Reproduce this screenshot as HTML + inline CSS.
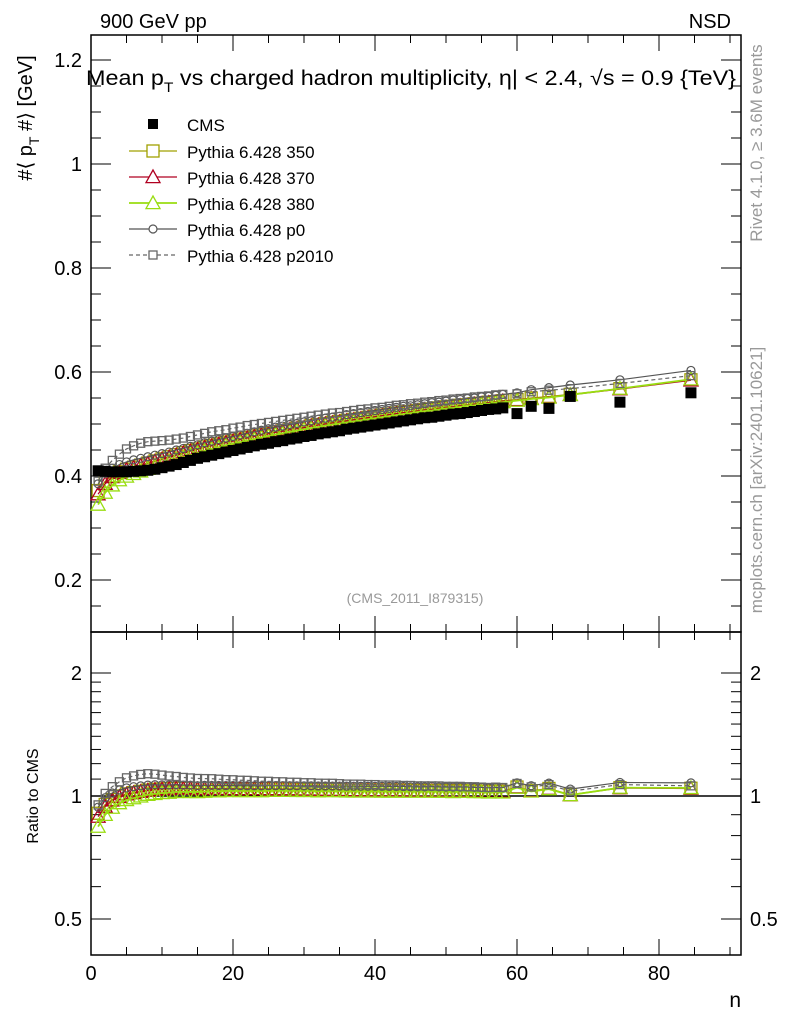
<!DOCTYPE html>
<html><head><meta charset="utf-8"><style>
body{margin:0;background:#fff}
svg{display:block;font-family:"Liberation Sans",sans-serif}
</style></head><body>
<svg id="c" width="786" height="1024" viewBox="0 0 786 1024">
<g id="axes"></g><g id="series"></g>
<text x="100" y="28" font-size="20">900 GeV pp</text>
<text x="731" y="28" font-size="20" text-anchor="end">NSD</text>
<text x="86" y="85" font-size="21" textLength="650" lengthAdjust="spacingAndGlyphs">Mean p<tspan font-size="14" dy="7">T</tspan><tspan dy="-7"> vs charged hadron multiplicity, η| &lt; 2.4, √s = 0.9 {TeV}</tspan></text>
<text transform="translate(32,118) rotate(-90)" font-size="20" text-anchor="middle">#⟨ p<tspan font-size="14" dy="7">T</tspan><tspan dy="-7"> #⟩ [GeV]</tspan></text>
<text transform="translate(38,796) rotate(-90)" font-size="16" text-anchor="middle">Ratio to CMS</text>
<text x="741" y="1007" font-size="21" text-anchor="end">n</text>
<text x="415" y="603" font-size="14" fill="#999" text-anchor="middle">(CMS_2011_I879315)</text>
<text transform="translate(762,143) rotate(-90)" font-size="17" fill="#999" text-anchor="middle">Rivet 4.1.0, ≥ 3.6M events</text>
<text transform="translate(762,480) rotate(-90)" font-size="17" fill="#999" text-anchor="middle">mcplots.cern.ch [arXiv:2401.10621]</text>
<g id="legend"></g>
</svg>
<script>
const nVals=[1,2,3,4,5,6,7,8,9,10,11,12,13,14,15,16,17,18,19,20,21,22,23,24,25,26,27,28,29,30,31,32,33,34,35,36,37,38,39,40,41,42,43,44,45,46,47,48,49,50,51,52,53,54,55,56,57,58,60,62,64.5,67.5,74.5,84.5];
const cms=[0.410,0.409,0.408,0.408,0.408,0.409,0.410,0.411,0.413,0.416,0.419,0.422,0.426,0.430,0.434,0.437,0.440,0.443,0.446,0.449,0.452,0.455,0.458,0.461,0.463,0.466,0.468,0.471,0.473,0.476,0.478,0.481,0.483,0.485,0.487,0.490,0.492,0.494,0.496,0.498,0.500,0.502,0.504,0.506,0.508,0.510,0.512,0.513,0.515,0.517,0.519,0.520,0.522,0.524,0.526,0.528,0.529,0.531,0.520,0.534,0.530,0.553,0.542,0.560];
const p350=[0.372,0.390,0.400,0.408,0.413,0.417,0.421,0.425,0.429,0.433,0.437,0.441,0.445,0.449,0.452,0.456,0.459,0.462,0.465,0.468,0.471,0.474,0.477,0.480,0.482,0.485,0.487,0.490,0.492,0.494,0.497,0.499,0.501,0.503,0.505,0.507,0.509,0.511,0.513,0.515,0.517,0.519,0.521,0.523,0.524,0.526,0.528,0.529,0.531,0.533,0.534,0.536,0.537,0.539,0.540,0.542,0.543,0.545,0.547,0.550,0.553,0.557,0.568,0.585];
const p370=[0.365,0.385,0.398,0.406,0.412,0.416,0.420,0.424,0.428,0.432,0.436,0.440,0.444,0.448,0.451,0.455,0.458,0.461,0.464,0.467,0.470,0.473,0.476,0.479,0.481,0.484,0.486,0.489,0.491,0.493,0.496,0.498,0.500,0.502,0.504,0.506,0.508,0.510,0.512,0.514,0.516,0.518,0.520,0.522,0.523,0.525,0.527,0.528,0.530,0.532,0.533,0.535,0.536,0.538,0.539,0.541,0.542,0.544,0.546,0.549,0.552,0.556,0.567,0.584];
const p380=[0.345,0.368,0.382,0.392,0.399,0.404,0.409,0.414,0.418,0.423,0.427,0.432,0.436,0.440,0.444,0.448,0.452,0.455,0.459,0.462,0.465,0.468,0.471,0.474,0.477,0.480,0.482,0.485,0.487,0.490,0.492,0.494,0.497,0.499,0.501,0.503,0.505,0.507,0.509,0.511,0.513,0.515,0.517,0.519,0.521,0.523,0.525,0.526,0.528,0.530,0.531,0.533,0.535,0.536,0.538,0.539,0.541,0.542,0.545,0.548,0.551,0.556,0.568,0.586];
const pp0=[0.385,0.405,0.415,0.422,0.427,0.431,0.434,0.437,0.440,0.443,0.446,0.450,0.453,0.457,0.460,0.464,0.467,0.470,0.473,0.476,0.479,0.482,0.485,0.488,0.491,0.494,0.496,0.499,0.501,0.504,0.506,0.509,0.511,0.513,0.515,0.518,0.520,0.522,0.524,0.526,0.528,0.530,0.532,0.534,0.535,0.537,0.539,0.541,0.542,0.544,0.546,0.547,0.549,0.550,0.552,0.553,0.555,0.557,0.560,0.566,0.570,0.575,0.585,0.603];
const p2010=[0.390,0.415,0.430,0.442,0.452,0.458,0.463,0.466,0.467,0.468,0.469,0.471,0.473,0.476,0.479,0.482,0.485,0.487,0.489,0.492,0.494,0.497,0.499,0.501,0.503,0.505,0.507,0.509,0.511,0.513,0.515,0.517,0.519,0.521,0.522,0.524,0.526,0.528,0.529,0.531,0.532,0.534,0.536,0.537,0.539,0.540,0.542,0.543,0.545,0.546,0.548,0.549,0.550,0.552,0.553,0.554,0.556,0.557,0.558,0.562,0.565,0.568,0.578,0.593];
const yTicks=[0.2,0.4,0.6,0.8,1,1.2];
const yTickLabels=["0.2","0.4","0.6","0.8","1","1.2"];
const xTicks=[0,20,40,60,80];
const rTicks=[0.5,1,2];
const rTickLabels=["0.5","1","2"];
const seriesNames=["Pythia 6.428 350","Pythia 6.428 370","Pythia 6.428 380","Pythia 6.428 p0","Pythia 6.428 p2010"];

const NS="http://www.w3.org/2000/svg";
const L=91,R=741,T=35,MB=632,B=955;
const X=v=>91+v*7.1;
const Y=v=>580-(v-0.2)*520;
const RY=v=>796-Math.log2(v)*123;
function mk(tag,attrs,parent){const e=document.createElementNS(NS,tag);for(const k in attrs)e.setAttribute(k,attrs[k]);parent.appendChild(e);return e;}
const ax=document.getElementById('axes'),sg=document.getElementById('series'),lg=document.getElementById('legend');
let f=mk('rect',{x:L,y:T,width:R-L,height:MB-T,fill:'none',stroke:'#000','stroke-width':1.5},ax);

f=mk('rect',{x:L,y:MB,width:R-L,height:B-MB,fill:'none',stroke:'#000','stroke-width':1.5},ax);

for(let v=0;v<=90;v+=5){const maj=v%20===0;const len=maj?16:8;
 [[T,1],[MB,-1],[MB,1],[B,-1]].forEach(([y0,d])=>mk('line',{x1:X(v),x2:X(v),y1:y0,y2:y0+d*len,stroke:'#000'},ax));}
xTicks.forEach(v=>{const t=mk('text',{x:X(v),y:980,'font-size':20,'text-anchor':'middle'},ax);t.textContent=v;
 });
for(let i=0;i<=22;i++){const v=0.1+i*0.05;const y=Y(v);if(y<T||y>MB)continue;const maj=Math.abs((v*10)%2)<0.01||Math.abs((v*10)%2-2)<0.01;const len=maj?20:10;
 mk('line',{x1:L,x2:L+len,y1:y,y2:y,stroke:'#000'},ax);mk('line',{x1:R,x2:R-len,y1:y,y2:y,stroke:'#000'},ax);}
yTicks.forEach((v,i)=>{const t=mk('text',{x:82,y:Y(v)+7,'font-size':20,'text-anchor':'end'},ax);t.textContent=yTickLabels[i];
 });
[0.5,0.6,0.7,0.8,0.9,1,1.1,1.2,1.3,1.4,1.5,1.6,1.7,1.8,1.9,2].forEach(v=>{const maj=rTicks.includes(v);const len=maj?20:10;const y=RY(v);
 mk('line',{x1:L,x2:L+len,y1:y,y2:y,stroke:'#000'},ax);mk('line',{x1:R,x2:R-len,y1:y,y2:y,stroke:'#000'},ax);});
rTicks.forEach((v,i)=>{[[82,'end'],[750,'start']].forEach(([x,a])=>{const t=mk('text',{x:x,y:RY(v)+7,'font-size':20,'text-anchor':a},ax);t.textContent=rTickLabels[i];
 });});
let one=mk('line',{x1:L,x2:R,y1:RY(1),y2:RY(1),stroke:'#000','stroke-width':1.5},ax);


function marker(type,x,y,col,parent,s){
 if(type==='sq')return mk('rect',{x:x-s,y:y-s,width:2*s,height:2*s,fill:'none',stroke:col,'stroke-width':1.3},parent);
 if(type==='tri')return mk('polygon',{points:`${x},${y-s} ${x-s},${y+s*0.8} ${x+s},${y+s*0.8}`,fill:'none',stroke:col,'stroke-width':1.3},parent);
 if(type==='circ')return mk('circle',{cx:x,cy:y,r:s,fill:'none',stroke:col,'stroke-width':1.2},parent);
}
const models=[[p350,'#a0a000','sq',6,'',1.2],[p370,'#b00020','tri',7,'',1.2],[p380,'#99dd11','tri',7,'',1.8],[pp0,'#555','circ',4,'',1.2],[p2010,'#666','sq',4,'4,3',1.2]];
const names=['model-350','model-370','model-380','model-p0','model-p2010'];
models.forEach(([d,col,type,s,dash,w],k)=>{
 const g=mk('g',{},sg);
 const pts=nVals.map((n,i)=>X(n)+','+Y(d[i])).join(' ');
 mk('polyline',{points:pts,fill:'none',stroke:col,'stroke-width':w,'stroke-dasharray':dash},g);
 const rp=nVals.map((n,i)=>X(n)+','+RY(d[i]/cms[i])).join(' ');
 mk('polyline',{points:rp,fill:'none',stroke:col,'stroke-width':w,'stroke-dasharray':dash},g);
 nVals.forEach((n,i)=>{let m=marker(type,X(n),Y(d[i]),col,g,s);
  m=marker(type,X(n),RY(d[i]/cms[i]),col,g,s);});
});
const cg=mk('g',{},sg);
nVals.forEach((n,i)=>{const m=mk('rect',{x:X(n)-5.5,y:Y(cms[i])-5.5,width:11,height:11,fill:'#000'},cg);
 });
const ly=[124,151,177,203,229,255];
let m=mk('rect',{x:148,y:ly[0]-5,width:10,height:10,fill:'#000'},lg);

let t=mk('text',{x:187,y:ly[0]+7,'font-size':17},lg);t.textContent='CMS';

models.forEach(([d,col,type,s,dash,w],k)=>{const y=ly[k+1];
 mk('line',{x1:129,x2:177,y1:y,y2:y,stroke:col,'stroke-width':w,'stroke-dasharray':dash},lg);
 const mm=marker(type,153,y,col,lg,s);mm.setAttribute('fill','#fff');
 
 const tt=mk('text',{x:187,y:y+7,'font-size':17},lg);tt.textContent=seriesNames[k];
 });
</script>
</body></html>
